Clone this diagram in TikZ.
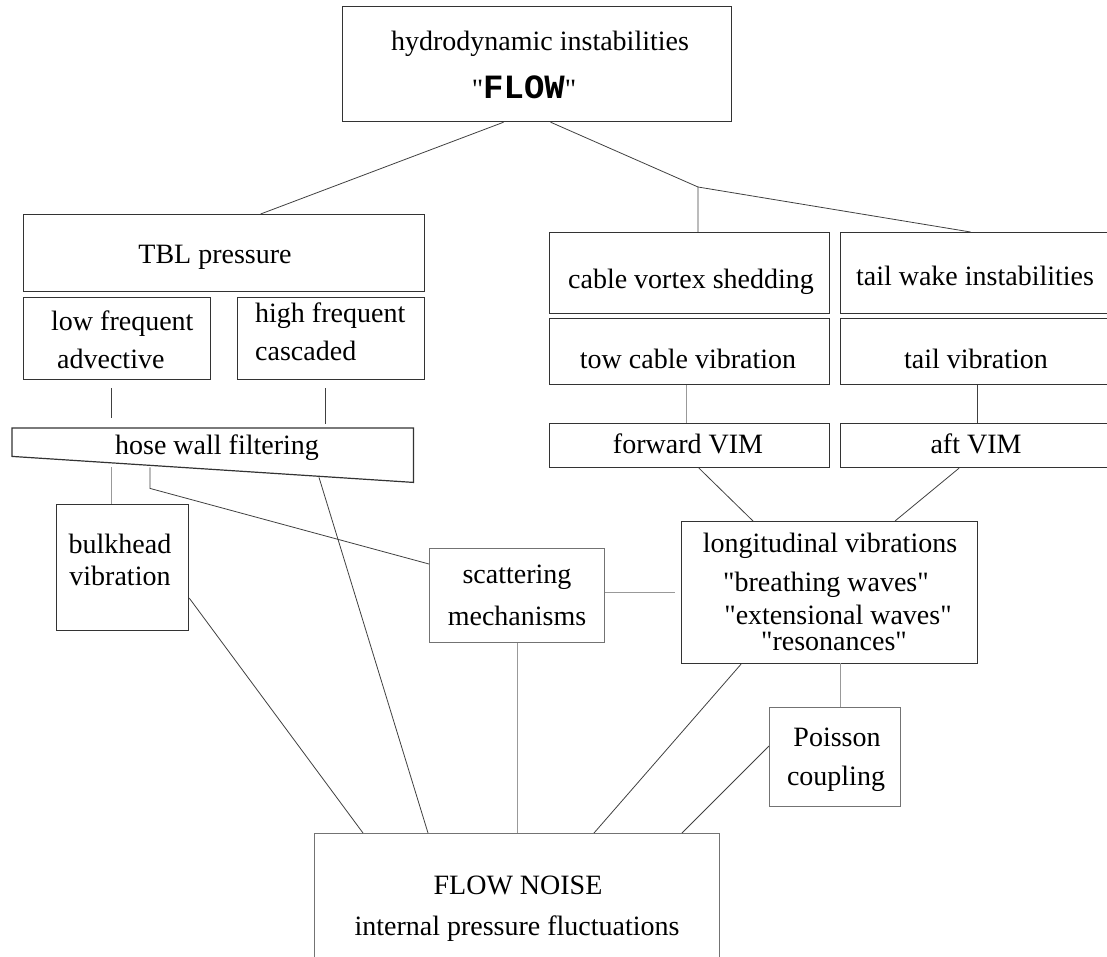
\documentclass[tikz,border=0pt]{standalone}
\usepackage{fontspec}
\setmainfont{Liberation Serif}[Ligatures=TeXOff]
\newfontfamily\flowfont{Liberation Mono}[Ligatures=TeXOff]
\tikzset{
    box/.style={draw=black!80, line width=1.2pt, inner sep=0pt, anchor=north west},
    palebox/.style={box, draw=black!55},
    txt/.style={anchor=base, inner sep=0pt, font=\fontsize{28}{33}\selectfont},
    wire/.style={draw=black!75, line width=0.8pt},
    palewire/.style={draw=black!40, line width=0.8pt},
}
\begin{document}
\begin{tikzpicture}[x=1pt, y=-1pt]
    \useasboundingbox (0,0) rectangle (1107,956);
    \clip (0,0) rectangle (1107,956);
    % boxes
    \node[box, minimum width=389pt, minimum height=115pt] (top) at (342,6) {};
    \node[box, minimum width=401pt, minimum height=77pt] (tbl) at (23,214) {};
    \node[box, minimum width=187pt, minimum height=82pt] (lowf) at (23,297) {};
    \node[box, minimum width=187pt, minimum height=82pt] (highf) at (237,297) {};
    \node[inner sep=0pt, anchor=north west, minimum width=401pt, minimum height=28pt] (hose) at (12,428) {};
    \draw[box] (hose.north west) -- (hose.north east) -- ([shift={(0,26)}]hose.south east) -- (hose.south west) -- cycle;
    \node[box, minimum width=132pt, minimum height=126pt] (bulk) at (56,504) {};
    \node[palebox, minimum width=175pt, minimum height=94pt] (scat) at (429,548) {};
    \node[box, minimum width=280pt, minimum height=81pt] (cable) at (549,232) {};
    \node[box, minimum width=280pt, minimum height=81pt] (tailw) at (840,232) {};
    \node[box, minimum width=280pt, minimum height=66pt] (tow) at (549,318) {};
    \node[box, minimum width=280pt, minimum height=66pt] (tailv) at (840,318) {};
    \node[box, minimum width=280pt, minimum height=44pt] (fvim) at (549,423) {};
    \node[box, minimum width=280pt, minimum height=44pt] (avim) at (840,423) {};
    \node[box, minimum width=296pt, minimum height=142pt] (long) at (681,521) {};
    \node[palebox, minimum width=131pt, minimum height=99pt] (pois) at (769,707) {};
    \node[palebox, minimum width=405pt, minimum height=140pt] (noise) at (314,833) {};
    % texts
    \node[txt] (top-a) at (540,50) {hydrodynamic instabilities};
    \node[txt] (top-b) at (524,98) {"{\flowfont\bfseries\fontsize{34}{38}\selectfont FLOW}"};
    \node[txt] (tbl-a) at (215,263) {TBL pressure};
    \node[txt, anchor=base west] (lowf-a) at (51,330) {low frequent};
    \node[txt, anchor=base west] (lowf-b) at (57,368) {advective};
    \node[txt, anchor=base west] (highf-a) at (255,322) {high frequent};
    \node[txt, anchor=base west] (highf-b) at (255,360) {cascaded};
    \node[txt] (hose-a) at (217,454) {hose wall filtering};
    \node[txt] (bulk-a) at (120,553) {bulkhead};
    \node[txt] (bulk-b) at (120,585) {vibration};
    \node[txt] (scat-a) at (517,583) {scattering};
    \node[txt] (scat-b) at (517,625) {mechanisms};
    \node[txt] (cable-a) at (691,288) {cable vortex shedding};
    \node[txt] (tailw-a) at (975,285) {tail wake instabilities};
    \node[txt] (tow-a) at (688,368) {tow cable vibration};
    \node[txt] (tailv-a) at (976,368) {tail vibration};
    \node[txt] (fvim-a) at (688,453) {forward VIM};
    \node[txt] (avim-a) at (976,453) {aft VIM};
    \node[txt] (long-a) at (830,552) {longitudinal vibrations};
    \node[txt] (long-b) at (826,591) {"breathing waves"};
    \node[txt] (long-c) at (838,624) {"extensional waves"};
    \node[txt] (long-d) at (834,650) {"resonances"};
    \node[txt] (pois-a) at (837,746) {Poisson};
    \node[txt] (pois-b) at (836,785) {coupling};
    \node[txt] (noise-a) at (518,894) {FLOW NOISE};
    \node[txt] (noise-b) at (517,935) {internal pressure fluctuations};
    % connectors
    \coordinate (fork) at (698,187);
    \draw[wire] ([shift={(-33.5,0)}]top.south) -- ([shift={(36.5,0)}]tbl.north);
    \draw[wire] ([shift={(13.5,0)}]top.south) -- (fork) -- (fork |- cable.north);
    \draw[wire] (fork) -- ([shift={(-10,0)}]tailw.north);
    \draw[wire] ([shift={(-5.5,8)}]lowf.south) -- ++(0,30);
    \draw[wire] ([shift={(-5.5,8)}]highf.south) -- ++(0,36);
    \draw[palewire] ([shift={(-11,0)}]bulk.north) -- ++(0,-37);
    \draw[wire] ([shift={(138,11)}]hose.south west) -- ++(0,21) -- ([shift={(0,16)}]scat.north west);
    \draw[wire] ([shift={(307,21)}]hose.south west) -- ([shift={(114,0)}]noise.north west);
    \draw[wire] ([shift={(0,94)}]bulk.north east) -- ([shift={(49,0)}]noise.north west);
    \draw[palewire] (scat.south) -- (noise.north);
    \draw[palewire] ([shift={(0,-3)}]scat.east) -- ([shift={(-6,0)}]long.west);
    \draw[palewire] ([shift={(-3,0)}]tow.south) -- ([shift={(-3,0)}]fvim.north);
    \draw[wire] ([shift={(-3,0)}]tailv.south) -- ([shift={(-3,0)}]avim.north);
    \draw[wire] ([shift={(150,0)}]fvim.south west) -- ([shift={(72,0)}]long.north west);
    \draw[wire] ([shift={(119,0)}]avim.south west) -- ([shift={(214,0)}]long.north west);
    \draw[wire] ([shift={(60,0)}]long.south west) -- ([shift={(280,0)}]noise.north west);
    \draw[palewire] ([shift={(5.5,0)}]pois.north) -- ++(0,-44);
    \draw[wire] ([shift={(0,39)}]pois.north west) -- ([shift={(368,0)}]noise.north west);
\end{tikzpicture}
\end{document}
